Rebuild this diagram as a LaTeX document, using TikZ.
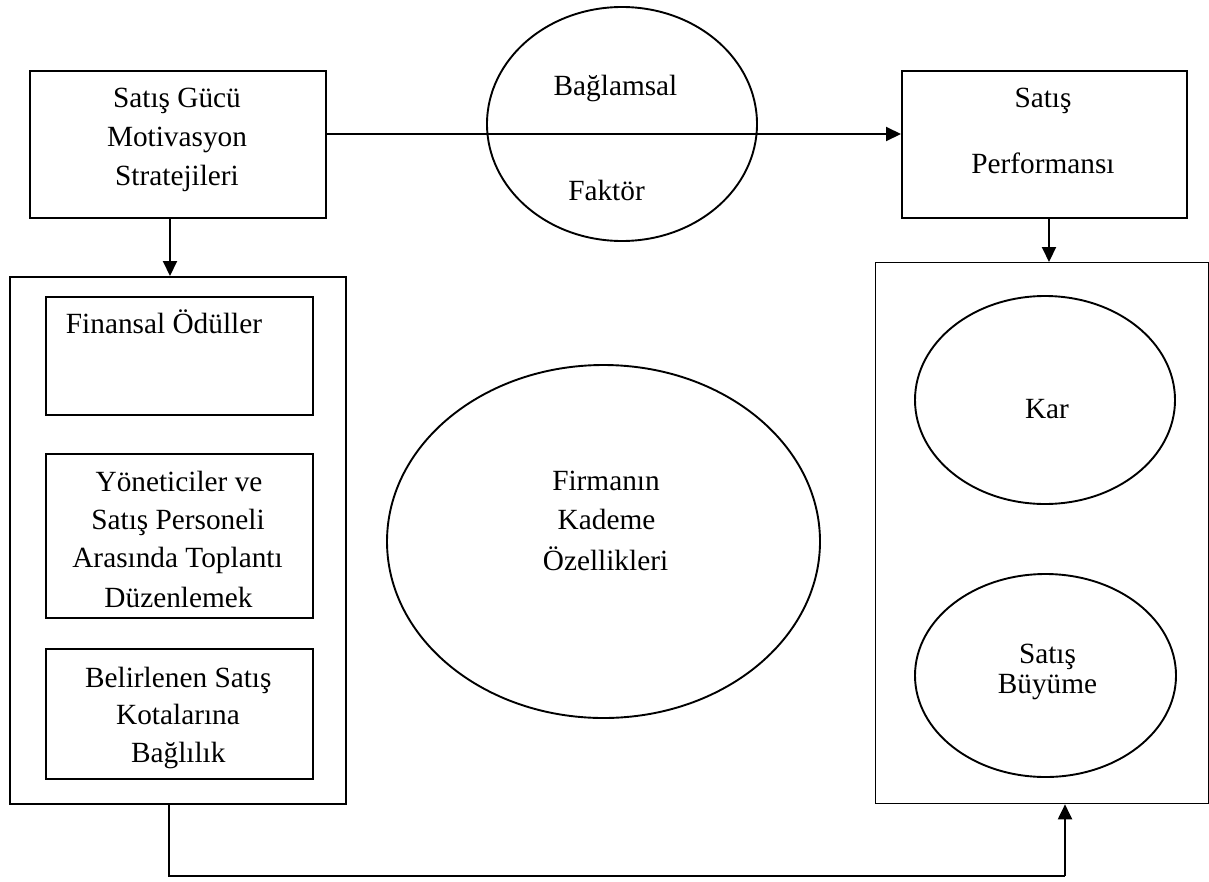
\documentclass[tikz,border=0pt]{standalone}
\usepackage{fontspec}
\setmainfont{Liberation Serif}
\usetikzlibrary{shapes.geometric,arrows.meta}
\begin{document}
\begin{tikzpicture}[x=1pt,y=-1pt,
  box/.style={draw,line width=2pt,inner sep=0pt,anchor=north west},
  thinbox/.style={draw,line width=1.3pt,inner sep=0pt,anchor=north west},
  oval/.style={draw,ellipse,line width=1.9pt,inner sep=0pt},
  arr/.style={line width=2pt,-{Triangle[width=14pt,length=15pt]}},
  txt/.style={anchor=base,inner sep=0pt,font=\fontsize{29.3pt}{35pt}\selectfont}]
\useasboundingbox (0,0) rectangle (1209,881);
% shapes
\node[box,minimum width=296pt,minimum height=147pt] (A) at (29,70) {};
\node[box,minimum width=285pt,minimum height=147pt] (R) at (901,70) {};
\node[box,minimum width=336pt,minimum height=527pt] (L) at (9,276) {};
\node[thinbox,minimum width=333pt,minimum height=541pt] (RB) at (875,262) {};
\node[box,minimum width=267pt,minimum height=118pt] (F1) at (45,296) {};
\node[box,minimum width=267pt,minimum height=164pt] (F2) at (45,453) {};
\node[box,minimum width=267pt,minimum height=130pt] (F3) at (45,648) {};
\node[oval,minimum width=270pt,minimum height=234pt] (B) at (622,124) {};
\node[oval,minimum width=433pt,minimum height=353pt] (K) at (603.5,541.5) {};
\node[oval,minimum width=260pt,minimum height=208pt] (KR) at (1045,400) {};
\node[oval,minimum width=261pt,minimum height=203pt] (SB) at (1045.5,675.5) {};
% texts
\node[txt] (a1) at (177,107) {Satış Gücü};
\node[txt] (a2) at (177,146) {Motivasyon};
\node[txt] (a3) at (177,185) {Stratejileri};
\node[txt] (r1) at (1043,107) {Satış};
\node[txt] (r2) at (1043,173) {Performansı};
\node[txt] (b1) at (615.5,95) {Bağlamsal};
\node[txt] (b2) at (606.5,200) {Faktör};
\node[txt] (k1) at (606,490) {Firmanın};
\node[txt] (k2) at (606.5,529) {Kademe};
\node[txt] (k3) at (605.5,570) {Özellikleri};
\node[txt] (kr1) at (1047,418) {Kar};
\node[txt] (s1) at (1047.5,663) {Satış};
\node[txt] (s2) at (1047.5,693) {Büyüme};
\node[txt] (f1) at (164,333) {Finansal Ödüller};
\node[txt] (f21) at (179,491) {Yöneticiler ve};
\node[txt] (f22) at (178,529) {Satış Personeli};
\node[txt] (f23) at (177.5,567) {Arasında Toplantı};
\node[txt] (f24) at (178.5,607) {Düzenlemek};
\node[txt] (f31) at (178.3,687) {Belirlenen Satış};
\node[txt] (f32) at (178,724.5) {Kotalarına};
\node[txt] (f33) at (178.3,762.5) {Bağlılık};
% connectors
\draw[arr] ([yshift=-64pt]A.north east) -- ([yshift=-64pt]R.north west);
\draw[arr] ([xshift=-8pt]A.south) -- ([xshift=-8pt]L.north);
\draw[arr] ([xshift=4.5pt]R.south) -- ([xshift=4.5pt]R.south |- RB.north);
\coordinate (c1) at (169,876);
\coordinate (c2) at (1065,876);
\draw[line width=2pt] (c1 |- L.south) -- (c1) -- (c2);
\draw[arr] (c2) -- (c2 |- RB.south);
\end{tikzpicture}
\end{document}
